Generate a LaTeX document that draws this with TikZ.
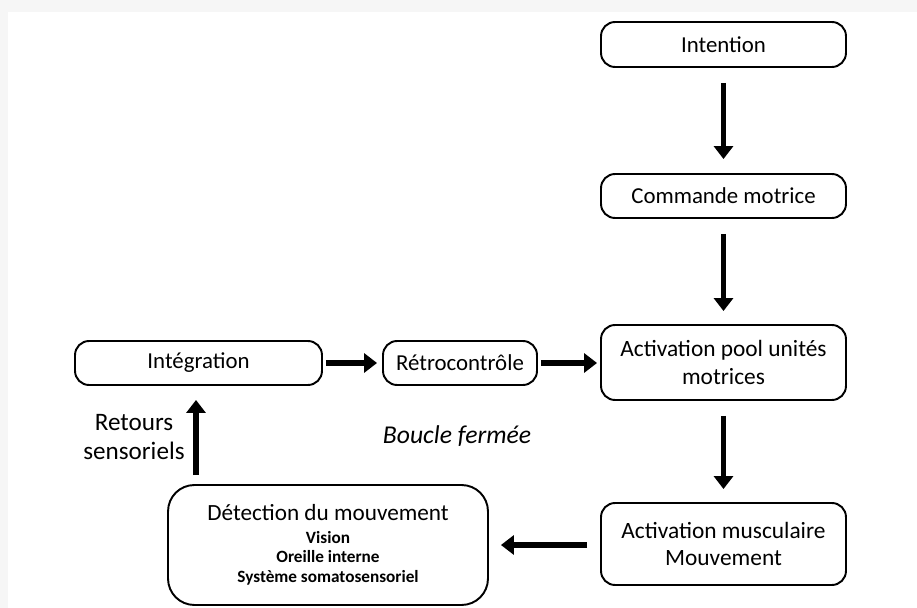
\documentclass[tikz,border=0pt]{standalone}
\usepackage{fontspec}
\setmainfont{Carlito}
\usetikzlibrary{arrows.meta}

\begin{document}
\begin{tikzpicture}[x=0.02cm,y=-0.02cm,
	box/.style={draw,line width=1.1pt,rounded corners=8pt,align=center,inner sep=0pt,font=\fontsize{13}{15.5}\selectfont},
	flow/.style={line width=3.4pt,-{Triangle[length=0.26cm,width=0.38cm]}}]
	\fill[gray!7] (0,0) rectangle (917,608);
	\fill[white] (8,12) rectangle (917,608);
	\useasboundingbox (0,0) rectangle (917,608);

	\node[box,minimum width=4.9cm,minimum height=0.9cm] (intention) at (723.5,44.5) {Intention};
	\node[box,minimum width=4.9cm,minimum height=0.88cm] (commande) at (723.5,196) {Commande motrice};
	\node[box,minimum width=4.9cm,minimum height=1.5cm,font=\fontsize{13.3}{15.5}\selectfont] (pool) at (723.5,362.5) {Activation pool unités\\motrices};
	\node[box,minimum width=4.9cm,minimum height=1.64cm,font=\fontsize{13.3}{15.5}\selectfont] (muscle) at (723.5,544) {Activation musculaire\\Mouvement};
	\node[box,minimum width=4.94cm,minimum height=0.88cm] (integ) at (198.5,363) {Intégration};
	\node[box,minimum width=3.08cm,minimum height=0.88cm] (retro) at (460,363) {Rétrocontrôle};
	\node[box,rounded corners=15pt,minimum width=6.4cm,minimum height=2.4cm,font=\fontsize{9.8}{11.2}\selectfont\bfseries] (detect) at (328,545)
		{{\mdseries\fontsize{13.2}{15}\selectfont Détection du mouvement}\\[1.5pt]
		 Vision\\
		 Oreille interne\\
		 Système somatosensoriel};

	\draw[flow,shorten <=0.3cm,shorten >=0.28cm] (intention) -- (commande);
	\draw[flow,shorten <=0.3cm,shorten >=0.26cm] (commande) -- (pool);
	\draw[flow,shorten <=0.3cm,shorten >=0.26cm] (pool) -- (muscle);
	\draw[flow,shorten <=0.26cm,shorten >=0.24cm] (muscle.west |- 0,545) -- (detect.east |- 0,545);
	\draw[flow,shorten <=0.18cm,shorten >=0.28cm] (detect.north -| 196,0) -- (integ.south -| 196,0);
	\draw[flow,shorten <=0.06cm,shorten >=0.1cm] (integ) -- (retro);
	\draw[flow,shorten <=0.06cm,shorten >=0.06cm] (retro) -- (pool.west |- retro);

	\node[align=center,font=\fontsize{14.3}{16}\selectfont] (retours) at (134,437) {Retours\\sensoriels};
	\node[font=\fontsize{14.6}{16}\selectfont\itshape] (boucle) at (457,436) {Boucle fermée};
\end{tikzpicture}
\end{document}
